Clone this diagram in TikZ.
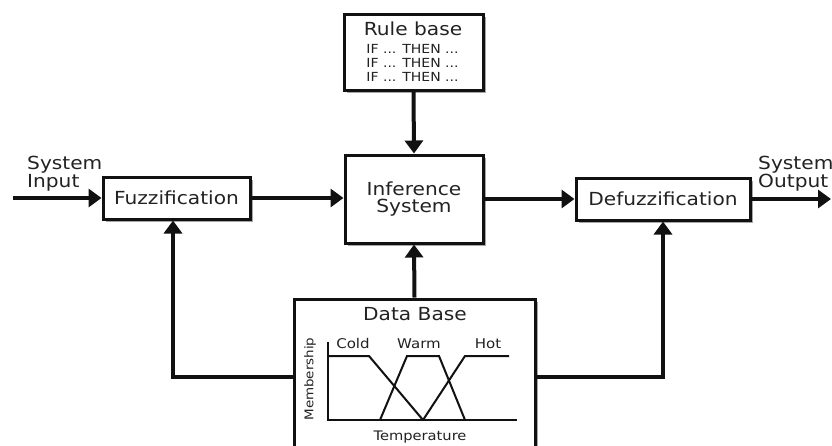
\documentclass[tikz,border=0pt]{standalone}
\usepackage{fontspec}
\setmainfont[FakeStretch=1.12]{DejaVu Sans}
\usetikzlibrary{arrows.meta,shadows}
\definecolor{ink}{HTML}{111111}
\definecolor{txt}{HTML}{222222}
\tikzset{
  box/.style={draw=ink, line width=3pt, fill=white, rectangle, inner sep=0pt,
    drop shadow={shadow xshift=2.5pt, shadow yshift=-2.5pt, fill=black, opacity=0.35}},
  arr/.style={draw=ink, line width=4pt, -{Triangle[length=13pt,width=18pt]}},
  chart/.style={draw=ink, line width=2pt},
  big/.style={font=\fontsize{18}{17.5}\selectfont, text=txt},
  lbl/.style={text=txt, inner sep=0pt},
}
\begin{document}
\begin{tikzpicture}[x=1pt,y=-1pt]
\fill[white] (0,0) rectangle (832,445);
\clip (0,0) rectangle (832,445);
\useasboundingbox (0,0) rectangle (832,445);

% boxes
\node[box, minimum width=139pt, minimum height=76pt] (rule) at (413.5,52) {};
\node[box, big, align=center, minimum width=138pt, minimum height=88pt] (inf) at (414,199) {Inference\\System};
\node[box, big, minimum width=147pt, minimum height=42pt] (fuzz) at (176.5,198) {Fuzzification};
\node[box, big, minimum width=174pt, minimum height=42pt] (defuzz) at (663,199) {Defuzzification};
\node[box, minimum width=241pt, minimum height=156pt] (db) at (414.5,377) {};

% rule base text
\node[lbl, big, anchor=base] (rbt) at (413,35) {Rule base};
\node[lbl, font=\fontsize{12.5}{14}\selectfont, anchor=base] (if1) at (412.5,53) {IF ... THEN ...};
\node[lbl, font=\fontsize{12.5}{14}\selectfont, anchor=base] (if2) at (412.5,67) {IF ... THEN ...};
\node[lbl, font=\fontsize{12.5}{14}\selectfont, anchor=base] (if3) at (412.5,81) {IF ... THEN ...};

% system input / output
\coordinate (in) at (13,198);
\coordinate (out) at (831,199);
\node[lbl, big, align=left, anchor=north west, font=\fontsize{18}{18}\selectfont] (intxt) at (27,156) {System\\Input};
\node[lbl, big, align=left, anchor=north west, font=\fontsize{18}{18}\selectfont] (outtxt) at (758,156) {System\\Output};

% connectors
\draw[arr] (in) -- (fuzz.west);
\draw[arr] (fuzz.east) -- (inf.west |- fuzz.east);
\draw[arr] (inf.east) -- (defuzz.west);
\draw[arr] (defuzz.east) -- (out);
\draw[arr] (rule.south) -- (inf.north);
\draw[arr] (db.north) -- (inf.south);
\draw[arr] (db.west) -| ([xshift=-3.5pt]fuzz.south);
\draw[arr] (db.east) -| (defuzz.south);

% data base content
\node[lbl, big, anchor=base] (dbt) at (415,320) {Data Base};
\draw[chart] (328,342) -- (328,420) -- (517,420);
\draw[chart] (328,356) -- (369,356) -- (423,420);
\draw[chart] (380,420) -- (407,356) -- (439,356) -- (465,420);
\draw[chart] (423,420) -- (465,356) -- (509,356);
\node[lbl, font=\fontsize{13.4}{14}\selectfont, anchor=base] (cold) at (353,348) {Cold};
\node[lbl, font=\fontsize{13.4}{14}\selectfont, anchor=base] (warm) at (419,348) {Warm};
\node[lbl, font=\fontsize{13.4}{14}\selectfont, anchor=base] (hot) at (488,348) {Hot};
\node[lbl, font=\fontsize{12}{12}\selectfont, rotate=90] (memb) at (310,379) {Membership};
\node[lbl, font=\fontsize{13.1}{14}\selectfont, anchor=base] (temp) at (420,440) {Temperature};
\end{tikzpicture}
\end{document}
